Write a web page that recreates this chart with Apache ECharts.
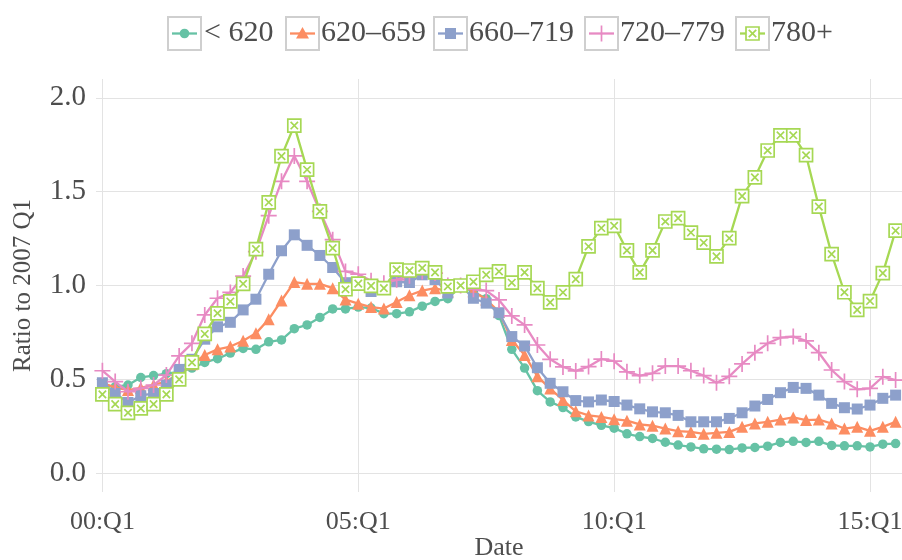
<!DOCTYPE html>
<html><head><meta charset="utf-8">
<script src="https://cdn.jsdelivr.net/npm/echarts@6/dist/echarts.min.js"></script>
<style>html,body{margin:0;padding:0;background:#fff}#c{width:902px;height:560px}</style>
</head><body><div id="c"></div>
<script>
const categories = [
'00:Q1','00:Q2','00:Q3','00:Q4','01:Q1','01:Q2','01:Q3','01:Q4','02:Q1','02:Q2','02:Q3','02:Q4',
'03:Q1','03:Q2','03:Q3','03:Q4','04:Q1','04:Q2','04:Q3','04:Q4','05:Q1','05:Q2','05:Q3','05:Q4',
'06:Q1','06:Q2','06:Q3','06:Q4','07:Q1','07:Q2','07:Q3','07:Q4','08:Q1','08:Q2','08:Q3','08:Q4',
'09:Q1','09:Q2','09:Q3','09:Q4','10:Q1','10:Q2','10:Q3','10:Q4','11:Q1','11:Q2','11:Q3','11:Q4',
'12:Q1','12:Q2','12:Q3','12:Q4','13:Q1','13:Q2','13:Q3','13:Q4','14:Q1','14:Q2','14:Q3','14:Q4',
'15:Q1','15:Q2','15:Q3'];
const seriesNames = ['< 620','620–659','660–719','720–779','780+'];
const below620 = [0.47,0.46,0.47,0.51,0.52,0.53,0.54,0.56,0.59,0.61,
0.64,0.665,0.66,0.70,0.71,0.77,0.79,0.83,0.875,0.875,
0.885,0.88,0.85,0.85,0.86,0.89,0.915,0.93,1.0,0.965,
0.93,0.84,0.66,0.56,0.44,0.38,0.35,0.30,0.275,0.255,
0.24,0.21,0.195,0.185,0.165,0.15,0.14,0.13,0.128,0.126,
0.135,0.137,0.144,0.164,0.17,0.164,0.17,0.148,0.146,0.146,
0.14,0.155,0.158];
const s620_659 = [0.48,0.457,0.443,0.455,0.47,0.49,0.53,0.58,0.63,0.66,
0.675,0.706,0.745,0.82,0.92,1.018,1.009,1.009,0.986,0.925,
0.903,0.885,0.877,0.912,0.948,0.973,0.986,0.968,1.0,0.97,
0.925,0.86,0.71,0.63,0.516,0.451,0.39,0.33,0.308,0.30,
0.288,0.28,0.26,0.253,0.238,0.224,0.22,0.21,0.215,0.22,
0.247,0.265,0.274,0.286,0.297,0.283,0.286,0.265,0.238,0.247,
0.226,0.247,0.274];
const s660_719 = [0.482,0.425,0.377,0.413,0.425,0.47,0.553,0.607,0.714,0.78,
0.804,0.87,0.927,1.06,1.185,1.27,1.214,1.16,1.096,1.015,
1.012,0.968,0.99,1.02,1.016,1.057,1.032,0.96,1.0,0.932,
0.906,0.855,0.728,0.678,0.562,0.479,0.434,0.387,0.38,0.39,
0.382,0.363,0.343,0.327,0.322,0.308,0.274,0.274,0.274,0.292,
0.322,0.358,0.393,0.429,0.457,0.452,0.416,0.372,0.349,0.342,
0.363,0.399,0.416];
const s720_779 = [0.546,0.488,0.434,0.452,0.47,0.523,0.625,0.692,0.843,0.932,
0.963,1.05,1.18,1.372,1.555,1.69,1.555,1.395,1.244,1.075,
1.06,1.025,1.012,1.03,1.052,1.075,1.066,1.0,1.0,0.98,
0.973,0.923,0.838,0.79,0.683,0.607,0.566,0.545,0.568,0.608,
0.597,0.54,0.52,0.532,0.571,0.571,0.546,0.52,0.482,0.516,
0.582,0.642,0.692,0.722,0.728,0.705,0.642,0.55,0.488,0.447,
0.452,0.514,0.496];
const s780plus = [0.42,0.368,0.322,0.345,0.368,0.42,0.50,0.59,0.742,0.852,
0.915,1.009,1.194,1.443,1.689,1.852,1.617,1.395,1.199,0.98,
1.01,0.998,0.986,1.085,1.08,1.093,1.07,0.995,1.0,1.02,
1.057,1.075,1.015,1.07,0.986,0.91,0.963,1.034,1.208,1.306,
1.318,1.187,1.07,1.187,1.341,1.359,1.282,1.228,1.155,1.252,
1.476,1.576,1.719,1.80,1.80,1.694,1.42,1.167,0.964,0.87,
0.917,1.066,1.292];
const yTicks = [0, 0.5, 1.0, 1.5, 2.0];
const xTickEvery = 20;

const colors = ['#66c2a5','#fc8d62','#8da0cb','#e78ac3','#a6d854'];
const dataSets = [below620, s620_659, s660_719, s720_779, s780plus];
const FONT = "'Liberation Serif','Times New Roman',serif";
const TXT = '#4d4d4d';
const plusPath = 'path://M6,0L6,12M0,6L12,6';
const boxXPath = 'path://M0,0L12,0L12,12L0,12Z M2.6,2.6L9.4,9.4 M9.4,2.6L2.6,9.4';

const symbolCfg = [
  {symbol:'circle', symbolSize:9.5, itemStyle:{color:colors[0]}},
  {symbol:'triangle', symbolSize:12, itemStyle:{color:colors[1]}},
  {symbol:'rect', symbolSize:11, itemStyle:{color:colors[2]}},
  {symbol:plusPath, symbolSize:16, itemStyle:{color:colors[3], borderColor:colors[3], borderWidth:1.7}},
  {symbol:boxXPath, symbolSize:13, itemStyle:{color:'#ffffff', borderColor:colors[4], borderWidth:1.7}}
];

const series = dataSets.map((d, k) => Object.assign({
  name: seriesNames[k], type:'line', data: d, showAllSymbol: true,
  lineStyle:{color: colors[k], width: 2.3},
  emphasis:{disabled:true}, z: 2 + k
}, symbolCfg[k]));

// legend drawn as graphic (boxed icons)
const boxX = [168, 286, 434, 585, 736];
const textX = [204, 321, 469, 620, 771];
const legY = 33.5;
const graphics = [];
seriesNames.forEach((nm, k) => {
  const bx = boxX[k], cx = bx + 16.5;
  graphics.push({type:'rect', shape:{x:bx, y:legY-16.5, width:33, height:33}, style:{fill:'none', stroke:'#cfcfcf', lineWidth:2}, silent:true});
  graphics.push({type:'line', shape:{x1:bx+4, y1:legY, x2:bx+29, y2:legY}, style:{stroke:colors[k], lineWidth:2.3}, silent:true});
  let mk;
  if (k === 0) mk = {type:'circle', shape:{cx:cx, cy:legY, r:4.8}, style:{fill:colors[0]}};
  else if (k === 1) mk = {type:'polygon', shape:{points:[[cx, legY-6.5],[cx+6.5, legY+5],[cx-6.5, legY+5]]}, style:{fill:colors[1]}};
  else if (k === 2) mk = {type:'rect', shape:{x:cx-5.5, y:legY-5.5, width:11, height:11}, style:{fill:colors[2]}};
  else if (k === 3) mk = {type:'polyline', shape:{points:[[cx, legY-8],[cx, legY+8]]}, style:{stroke:colors[3], lineWidth:1.7}};
  else mk = {type:'rect', shape:{x:cx-6.5, y:legY-6.5, width:13, height:13}, style:{fill:'#fff', stroke:colors[4], lineWidth:1.7}};
  mk.silent = true;
  graphics.push(mk);
  if (k === 4) {
    graphics.push({type:'line', silent:true, shape:{x1:cx-3.7,y1:legY-3.7,x2:cx+3.7,y2:legY+3.7}, style:{stroke:colors[4], lineWidth:1.7}});
    graphics.push({type:'line', silent:true, shape:{x1:cx+3.7,y1:legY-3.7,x2:cx-3.7,y2:legY+3.7}, style:{stroke:colors[4], lineWidth:1.7}});
  }
  graphics.push({type:'text', silent:true, x:textX[k], y:legY, style:{text:nm, fill:TXT, fontSize:30, fontFamily:FONT, verticalAlign:'middle', align:'left'}});
});

const chart = echarts.init(document.getElementById('c'), null, {renderer:'canvas'});
chart.setOption({
  animation:false,
  backgroundColor:'#ffffff',
  grid:{left:96, top:79, width:806, height:413, containLabel:false, outerBoundsMode:'none'},
  xAxis:{
    type:'category', data:categories, boundaryGap:true,
    name:'Date', nameLocation:'middle', nameGap:43, nameMoveOverlap:false,
    nameTextStyle:{fontSize:26, fontFamily:FONT, color:TXT},
    axisLine:{show:false},
    axisTick:{show:false, interval:xTickEvery-1, alignWithLabel:true},
    axisLabel:{interval:xTickEvery-1, fontSize:26, fontFamily:FONT, color:TXT, margin:17},
    splitLine:{show:true, interval:xTickEvery-1, alignWithLabel:true, lineStyle:{color:'#e3e3e3', width:1}}
  },
  yAxis:{
    type:'value', min:-0.1, max:2.1,
    name:'Ratio to 2007 Q1', nameLocation:'middle', nameGap:60, nameMoveOverlap:false,
    nameTextStyle:{fontSize:25, fontFamily:FONT, color:TXT},
    axisLine:{show:false},
    axisTick:{show:false, customValues:yTicks},
    axisLabel:{customValues:yTicks, fontSize:29, fontFamily:FONT, color:TXT, margin:10,
      formatter:v => Number(v).toFixed(1)},
    splitLine:{show:true, lineStyle:{color:'#e3e3e3', width:1}}
  },
  graphic:graphics,
  series:series
});
</script></body></html>
